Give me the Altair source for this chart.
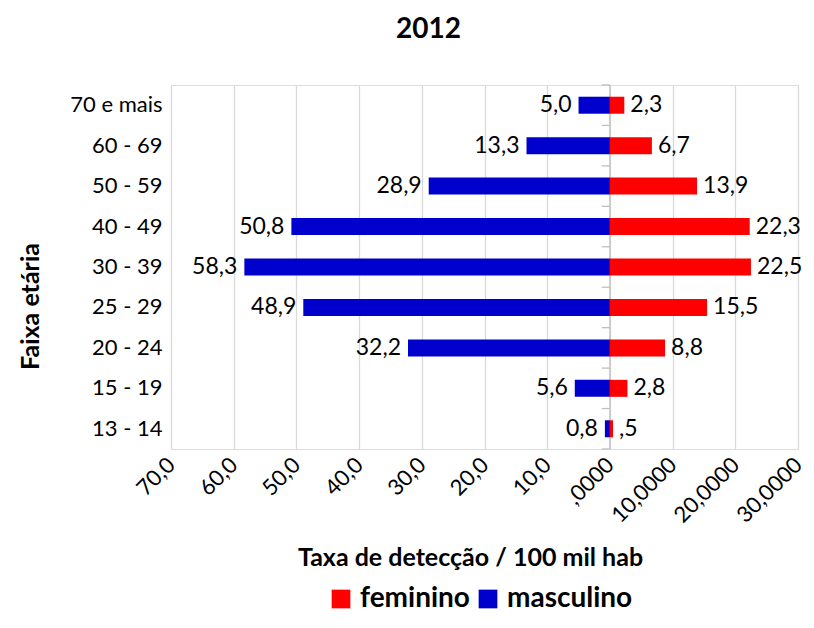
import altair as alt
import pandas as pd

ages = ["70 e mais", "60 - 69", "50 - 59", "40 - 49", "30 - 39", "25 - 29", "20 - 24", "15 - 19", "13 - 14"]
masculino = [5.0, 13.3, 28.9, 50.8, 58.3, 48.9, 32.2, 5.6, 0.8]
feminino = [2.3, 6.7, 13.9, 22.3, 22.5, 15.5, 8.8, 2.8, 0.5]

def fmt(v, strip_zero=False):
    s = f"{v:.1f}".replace(".", ",")
    if strip_zero and s.startswith("0,"):
        s = s[1:]
    return s

rows = []
for a, m, f in zip(ages, masculino, feminino):
    rows.append({"age": a, "sexo": "masculino", "x": -m, "label": fmt(m)})
    rows.append({"age": a, "sexo": "feminino", "x": f, "label": fmt(f, strip_zero=True)})
df = pd.DataFrame(rows)

FONT = "Lato"
xscale = alt.Scale(domain=[-70, 30], nice=False, zero=False)
ysort = ages

tick_expr = ("datum.value < 0 ? replace(format(-datum.value, '.1f'), '.', ',') : "
             "(datum.value == 0 ? ',0000' : replace(format(datum.value, '.4f'), '.', ','))")

base = alt.Chart(df)

bars = base.mark_bar(size=17).encode(
    x=alt.X("x:Q", scale=xscale,
            axis=alt.Axis(values=[-70, -60, -50, -40, -30, -20, -10, 0, 10, 20, 30],
                          labelExpr=tick_expr, labelAngle=-45, labelAlign="right",
                          labelBaseline="middle", labelFontSize=22, labelFont=FONT,
                          labelColor="#000000", labelPadding=12, ticks=False, domain=False,
                          grid=True, gridColor="#d9d9d9", gridWidth=1.3, labelOverlap=False,
                          title="Taxa de detecção / 100 mil hab", titleFont=FONT,
                          titleFontSize=25, titleFontWeight="bold", titleColor="#000000",
                          titleX=299, titleY=108, titleAnchor="middle", titleBaseline="middle")),
    y=alt.Y("age:N", sort=ysort, scale=alt.Scale(paddingInner=0, paddingOuter=0),
            axis=alt.Axis(ticks=False, domain=False, labelFont=FONT, labelFontSize=22,
                          labelColor="#000000", labelPadding=9,
                          title="Faixa etária", titleFont=FONT, titleFontSize=25,
                          titleFontWeight="bold", titleColor="#000000",
                          titleX=-141, titleY=221, titleAngle=-90, titleBaseline="middle")),
    color=alt.Color("sexo:N", scale=alt.Scale(domain=["feminino", "masculino"], range=["#ff0000", "#0000cc"]),
                    legend=alt.Legend(orient="none", legendX=156, legendY=500, direction="horizontal",
                                      title=None, symbolType="square", symbolSize=350,
                                      symbolStrokeWidth=0, labelFont=FONT, labelFontSize=28,
                                      labelFontWeight="bold", labelColor="#000000",
                                      columnPadding=4, labelOffset=5, labelLimit=300)),
)

zero_line = alt.Chart(pd.DataFrame({"z": [0]})).mark_rule(color="#bfbfbf", strokeWidth=1.3).encode(
    x=alt.X("z:Q", scale=xscale)
)

bdf = pd.DataFrame({"age": ages + [ages[-1]], "bp": [0] * len(ages) + [1]})
tick_top = alt.Chart(bdf[bdf.bp == 0]).mark_rule(color="#bfbfbf", strokeWidth=1.3).encode(
    y=alt.Y("age:N", sort=ysort, bandPosition=0),
    x=alt.datum(0, scale=xscale), x2=alt.datum(-1.3),
)
tick_bottom = alt.Chart(bdf[bdf.bp == 1]).mark_rule(color="#bfbfbf", strokeWidth=1.3).encode(
    y=alt.Y("age:N", sort=ysort, bandPosition=1),
    x=alt.datum(0, scale=xscale), x2=alt.datum(-1.3),
)

lab_m = base.transform_filter(alt.datum.sexo == "masculino").mark_text(
    align="right", baseline="middle", dx=-7, font=FONT, fontSize=23, color="#000000"
).encode(x=alt.X("x:Q", scale=xscale), y=alt.Y("age:N", sort=ysort), text="label:N")

lab_f = base.transform_filter(alt.datum.sexo == "feminino").mark_text(
    align="left", baseline="middle", dx=6, font=FONT, fontSize=23, color="#000000"
).encode(x=alt.X("x:Q", scale=xscale), y=alt.Y("age:N", sort=ysort), text="label:N")

chart = alt.layer(zero_line, tick_top, tick_bottom, bars, lab_m, lab_f).properties(
    width=627, height=364,
    title=alt.TitleParams("2012", font=FONT, fontSize=28, fontWeight="bold", color="#000000",
                          anchor="middle", dx=-56, offset=40),
    autosize=alt.AutoSizeParams(type="none"),
    padding={"left": 163, "top": 77, "right": 8, "bottom": 166},
).configure_view(stroke=None).configure(background="#ffffff")

chart.save("out.html", embed_options={"renderer": "svg", "actions": False})
